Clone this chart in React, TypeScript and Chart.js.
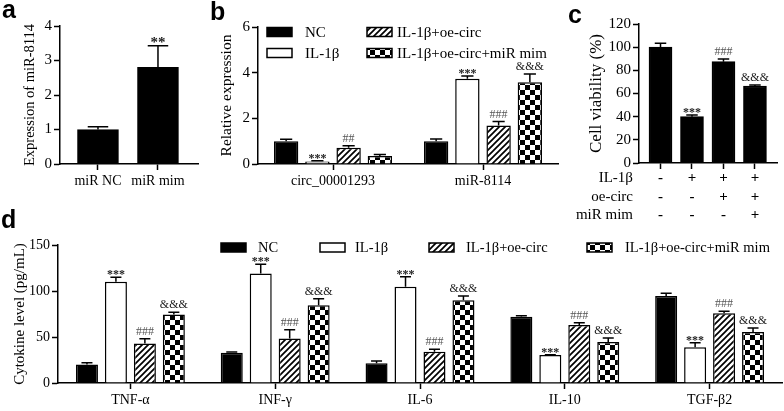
import React, { useEffect, useRef } from "react";
import { Chart, registerables } from "chart.js";
Chart.register(...registerables);

const FONT = "'Liberation Serif', 'Times New Roman', serif";

// ---------- Panel a ----------
const aCategories = ["miR NC", "miR mim"];
const aValues = [1.0, 2.8];
const aErrTop = [1.08, 3.43];
const aMarks = ["", "**"];
const aYTitle = "Expression of miR-8114";

// ---------- Panel b ----------
const groupNames = ["NC", "IL-1β", "IL-1β+oe-circ", "IL-1β+oe-circ+miR mim"];
const bCategories = ["circ_00001293", "miR-8114"];
const bNC = [1.0, 1.0];
const bNCErr = [1.08, 1.09];
const bIL = [0.11, 3.73];
const bILErr = [0.14, 3.85];
const bOe = [0.71, 1.69];
const bOeErr = [0.8, 1.86];
const bMim = [0.35, 3.58];
const bMimErr = [0.42, 3.94];
const bNCMarks = ["", ""];
const bILMarks = ["***", "***"];
const bOeMarks = ["##", "###"];
const bMimMarks = ["", "&&&"];
const bYTitle = "Relative expression";

// ---------- Panel c ----------
const cValues = [100, 40, 87.5, 66.5];
const cErrTop = [103.3, 41.4, 89.8, 67.4];
const cMarks = ["", "***", "###", "&&&"];
const cRowLabels = ["IL-1β", "oe-circ", "miR mim"];
const cRowSigns = [
  ["-", "+", "+", "+"],
  ["-", "-", "+", "+"],
  ["-", "-", "-", "+"],
];
const cYTitle = "Cell viability (%)";

// ---------- Panel d ----------
const dCategories = ["TNF-α", "INF-γ", "IL-6", "IL-10", "TGF-β2"];
const dNC = [20, 33, 21.4, 72, 94.6];
const dNCErr = [22, 33.8, 24, 73, 97.5];
const dIL = [110, 119, 104.7, 30.4, 38.8];
const dILErr = [115, 129, 115.5, 30.8, 43.8];
const dOe = [43, 48.5, 34, 63, 75.8];
const dOeErr = [48, 58, 36.6, 65.5, 78];
const dMim = [74.5, 84.5, 90, 44.6, 55.4];
const dMimErr = [77, 91.6, 94.6, 49, 59.8];
const dNCMarks = ["", "", "", "", ""];
const dILMarks = ["***", "***", "***", "***", "***"];
const dOeMarks = ["###", "###", "###", "###", "###"];
const dMimMarks = ["&&&", "&&&", "&&&", "&&&", "&&&"];
const dYTitle = "Cytokine level (pg/mL)";

function makeHatch(ctx: CanvasRenderingContext2D) {
  const c = document.createElement("canvas");
  c.width = 6;
  c.height = 6;
  const g = c.getContext("2d")!;
  g.fillStyle = "#fff";
  g.fillRect(0, 0, 6, 6);
  g.strokeStyle = "#000";
  g.lineWidth = 1.7;
  g.beginPath();
  g.moveTo(-1, 7);
  g.lineTo(7, -1);
  g.moveTo(-1, 1);
  g.lineTo(1, -1);
  g.moveTo(5, 7);
  g.lineTo(7, 5);
  g.stroke();
  return ctx.createPattern(c, "repeat")!;
}

function makeChecker(ctx: CanvasRenderingContext2D) {
  const s = 5;
  const c = document.createElement("canvas");
  c.width = s * 2;
  c.height = s * 2;
  const g = c.getContext("2d")!;
  g.fillStyle = "#fff";
  g.fillRect(0, 0, s * 2, s * 2);
  g.fillStyle = "#000";
  g.fillRect(0, 0, s, s);
  g.fillRect(s, s, s, s);
  return ctx.createPattern(c, "repeat")!;
}

const errorPlugin = {
  id: "errorBars",
  afterDatasetsDraw(chart: any) {
    const ctx = chart.ctx;
    const y = chart.scales.y;
    chart.data.datasets.forEach((ds: any, i: number) => {
      const meta = chart.getDatasetMeta(i);
      meta.data.forEach((bar: any, j: number) => {
        if (!ds.errTop) return;
        const top = y.getPixelForValue(ds.errTop[j]);
        const x = bar.x;
        const w = bar.width;
        ctx.save();
        ctx.strokeStyle = "#000";
        ctx.lineWidth = 1.5;
        ctx.beginPath();
        ctx.moveTo(x, bar.y);
        ctx.lineTo(x, top);
        ctx.moveTo(x - w / 4, top);
        ctx.lineTo(x + w / 4, top);
        ctx.stroke();
        const m = ds.marks ? ds.marks[j] : "";
        if (m) {
          const size = ds.markSize || 12;
          ctx.font = (m[0] === "*" ? "bold " : "") + size + "px " + FONT;
          ctx.fillStyle = m[0] === "#" ? "#555" : "#222";
          ctx.textAlign = "center";
          ctx.textBaseline = "alphabetic";
          const off = m[0] === "*" ? 1 : -4;
          ctx.fillText(m, x, top + off);
        }
        ctx.restore();
      });
    });
  },
};

type LegendItem = { x: number; y: number; tx: number; label: string; fill: any; };

function legendPlugin(items: LegendItem[], size: number) {
  return {
    id: "boxLegend",
    afterDraw(chart: any) {
      const ctx = chart.ctx;
      ctx.save();
      items.forEach((it) => {
        ctx.fillStyle = it.fill;
        ctx.fillRect(it.x, it.y - 4.5, 25, 9);
        ctx.strokeStyle = "#000";
        ctx.lineWidth = 1.5;
        ctx.strokeRect(it.x, it.y - 4.5, 25, 9);
        ctx.fillStyle = "#000";
        ctx.font = size + "px " + FONT;
        ctx.textAlign = "left";
        ctx.textBaseline = "middle";
        ctx.fillText(it.label, it.tx, it.y + 1);
      });
      ctx.restore();
    },
  };
}

const tablePlugin = {
  id: "signTable",
  afterDraw(chart: any) {
    const ctx = chart.ctx;
    const meta = chart.getDatasetMeta(0);
    const rowsY = [178, 197, 215];
    ctx.save();
    ctx.fillStyle = "#000";
    ctx.textBaseline = "middle";
    cRowLabels.forEach((lab, r) => {
      ctx.font = "15px " + FONT;
      ctx.textAlign = "right";
      ctx.fillText(lab, 63, rowsY[r]);
      cRowSigns[r].forEach((s, j) => {
        ctx.font = "bold 15px " + FONT;
        ctx.textAlign = "center";
        ctx.fillText(s, meta.data[j].x, rowsY[r]);
      });
    });
    ctx.restore();
  },
};

function axisBase() {
  return {
    border: { display: true, color: "#000", width: 1.5 },
    grid: {
      display: true,
      drawOnChartArea: false,
      drawTicks: true,
      tickLength: 6,
      tickWidth: 1.5,
      tickColor: "#000",
      offset: false,
    },
  };
}

function yAxis(max: number, step: number, title: string, tickSize: number, titleSize: number, titlePad: number, width: number) {
  return {
    ...axisBase(),
    min: 0,
    max,
    ticks: { stepSize: step, padding: 2, color: "#000", font: { family: FONT, size: tickSize } },
    title: {
      display: true,
      text: title,
      color: "#000",
      font: { family: FONT, size: titleSize },
      padding: { top: titlePad, bottom: 0 },
    },
    afterFit: (s: any) => {
      s.width = width;
    },
  };
}

function baseOptions(padding: any, scales: any) {
  return {
    responsive: false,
    animation: false as const,
    devicePixelRatio: 1,
    events: [] as any[],
    layout: { padding },
    plugins: { legend: { display: false }, tooltip: { enabled: false } },
    scales,
  };
}

export default function App() {
  const refA = useRef<HTMLCanvasElement>(null);
  const refB = useRef<HTMLCanvasElement>(null);
  const refC = useRef<HTMLCanvasElement>(null);
  const refD = useRef<HTMLCanvasElement>(null);

  useEffect(() => {
    Chart.defaults.font.family = FONT;
    Chart.defaults.color = "#000";
    const charts: Chart[] = [];

    // Panel a
    {
      const ctx = refA.current!.getContext("2d")!;
      charts.push(
        new Chart(ctx, {
          type: "bar",
          data: {
            datasets: [
              {
                data: aValues.map((v, i) => ({ x: i + 1, y: v })),
                backgroundColor: "#000",
                borderColor: "#000",
                borderWidth: 1.5,
                barThickness: 41,
                errTop: aErrTop,
                marks: aMarks,
                markSize: 15,
              } as any,
            ],
          },
          options: baseOptions({ left: 0, right: 12, top: 26, bottom: 0 }, {
            x: {
              ...axisBase(),
              type: "linear",
              offset: false,
              min: 0.367,
              max: 2.667,
              afterBuildTicks: (s: any) => {
                s.ticks = aCategories.map((_, i) => ({ value: i + 1 }));
              },
              ticks: {
                autoSkip: false,
                maxRotation: 0,
                padding: 3,
                color: "#000",
                font: { family: FONT, size: 14 },
                callback: (v: any) => aCategories[Math.round(v) - 1],
              },
              afterFit: (s: any) => {
                s.height = 36;
              },
            },
            y: yAxis(4, 1, aYTitle, 15, 14.5, 21, 60),
          }) as any,
          plugins: [errorPlugin],
        })
      );
    }

    // Panel b
    {
      const ctx = refB.current!.getContext("2d")!;
      const hatch = makeHatch(ctx);
      const checker = makeChecker(ctx);
      const fills = ["#000", "#fff", hatch, checker];
      const vals = [bNC, bIL, bOe, bMim];
      const errs = [bNCErr, bILErr, bOeErr, bMimErr];
      const marks = [bNCMarks, bILMarks, bOeMarks, bMimMarks];
      charts.push(
        new Chart(ctx, {
          type: "bar",
          data: {
            labels: bCategories,
            datasets: groupNames.map((g, k) => ({
              label: g,
              data: vals[k],
              backgroundColor: fills[k],
              borderColor: "#000",
              borderWidth: 1.5,
              categoryPercentage: 0.833,
              barPercentage: 0.78,
              errTop: errs[k],
              marks: marks[k],
              markSize: 12,
            })) as any,
          },
          options: baseOptions({ left: 0, right: 12, top: 27, bottom: 0 }, {
            x: {
              ...axisBase(),
              ticks: { padding: 3, color: "#000", font: { family: FONT, size: 14 } },
              afterFit: (s: any) => {
                s.height = 36;
              },
            },
            y: yAxis(6, 2, bYTitle, 15, 15.5, 17.5, 58),
          }) as any,
          plugins: [
            errorPlugin,
            legendPlugin(
              [
                { x: 67, y: 32, tx: 105, label: groupNames[0], fill: "#000" },
                { x: 67, y: 53, tx: 105, label: groupNames[1], fill: "#fff" },
                { x: 167, y: 32, tx: 197, label: groupNames[2], fill: hatch },
                { x: 167, y: 53, tx: 197, label: groupNames[3], fill: checker },
              ],
              15
            ),
          ],
        })
      );
    }

    // Panel c
    {
      const ctx = refC.current!.getContext("2d")!;
      charts.push(
        new Chart(ctx, {
          type: "bar",
          data: {
            datasets: [
              {
                data: cValues.map((v, i) => ({ x: i + 1, y: v })),
                backgroundColor: "#000",
                borderColor: "#000",
                borderWidth: 1.5,
                barThickness: 23,
                errTop: cErrTop,
                marks: cMarks,
                markSize: 12,
              } as any,
            ],
          },
          options: baseOptions({ left: 0, right: 7, top: 24, bottom: 0 }, {
            x: {
              ...axisBase(),
              type: "linear",
              offset: false,
              min: 0.317,
              max: 4.7,
              afterBuildTicks: (s: any) => {
                s.ticks = cValues.map((_, i) => ({ value: i + 1 }));
              },
              ticks: { display: false },
              afterFit: (s: any) => {
                s.height = 67;
              },
            },
            y: yAxis(120, 20, cYTitle, 15, 17, 16.5, 69),
          }) as any,
          plugins: [errorPlugin, tablePlugin],
        })
      );
    }

    // Panel d
    {
      const ctx = refD.current!.getContext("2d")!;
      const hatch = makeHatch(ctx);
      const checker = makeChecker(ctx);
      const fills = ["#000", "#fff", hatch, checker];
      const vals = [dNC, dIL, dOe, dMim];
      const errs = [dNCErr, dILErr, dOeErr, dMimErr];
      const marks = [dNCMarks, dILMarks, dOeMarks, dMimMarks];
      charts.push(
        new Chart(ctx, {
          type: "bar",
          data: {
            labels: dCategories,
            datasets: groupNames.map((g, k) => ({
              label: g,
              data: vals[k],
              backgroundColor: fills[k],
              borderColor: "#000",
              borderWidth: 1.5,
              categoryPercentage: 0.8,
              barPercentage: 0.76,
              errTop: errs[k],
              marks: marks[k],
              markSize: 12,
            })) as any,
          },
          options: baseOptions({ left: 0, right: 2, top: 40, bottom: 0 }, {
            x: {
              ...axisBase(),
              ticks: { padding: 3, color: "#000", font: { family: FONT, size: 14 } },
              afterFit: (s: any) => {
                s.height = 28;
              },
            },
            y: yAxis(150, 50, dYTitle, 14, 15, 11.5, 58),
          }) as any,
          plugins: [
            errorPlugin,
            legendPlugin(
              [
                { x: 221, y: 42.5, tx: 258, label: groupNames[0], fill: "#000" },
                { x: 320, y: 42.5, tx: 355, label: groupNames[1], fill: "#fff" },
                { x: 429, y: 42.5, tx: 466, label: groupNames[2], fill: hatch },
                { x: 587, y: 42.5, tx: 625, label: groupNames[3], fill: checker },
              ],
              14.5
            ),
          ],
        })
      );
    }

    return () => {
      charts.forEach((c) => c.destroy());
    };
  }, []);

  const letter = (t: string, left: number, top: number) => (
    <div
      style={{
        position: "absolute",
        left,
        top,
        fontFamily: "'Liberation Sans', Arial, sans-serif",
        fontWeight: "bold",
        fontSize: 25,
        lineHeight: "26px",
        color: "#000",
      }}
    >
      {t}
    </div>
  );

  const place = (left: number, top: number): React.CSSProperties => ({
    position: "absolute",
    left,
    top,
    display: "block",
  });

  return (
    <div
      style={{
        position: "fixed",
        left: 0,
        top: 0,
        width: 784,
        height: 411,
        background: "#fff",
        overflow: "hidden",
      }}
    >
      <canvas ref={refA} width={210} height={200} style={place(0, 0)} />
      <canvas ref={refB} width={370} height={200} style={place(200, 0)} />
      <canvas ref={refC} width={214} height={230} style={place(570, 0)} />
      <canvas ref={refD} width={784} height={206} style={place(0, 205)} />
      {letter("a", 2, -4)}
      {letter("b", 210, -2)}
      {letter("c", 568, 1)}
      {letter("d", 1, 206)}
    </div>
  );
}
